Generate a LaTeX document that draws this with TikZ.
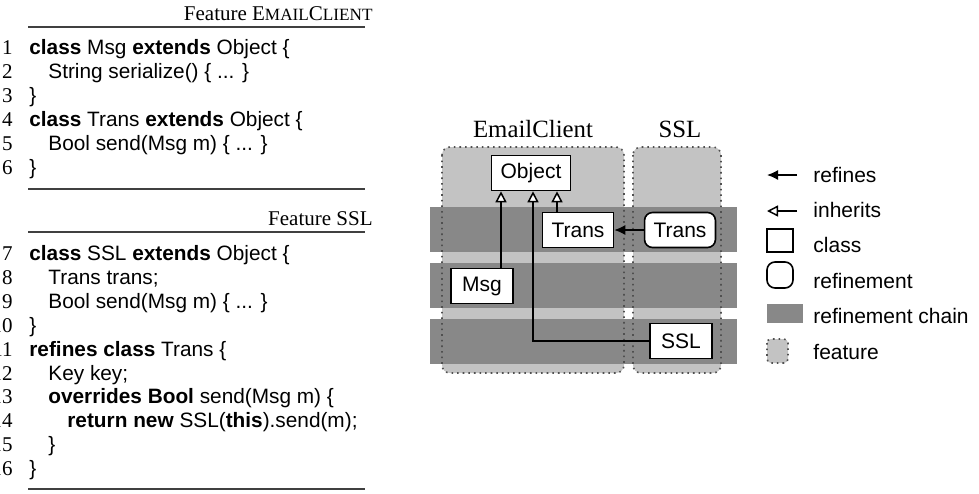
\documentclass[tikz,border=0pt]{standalone}
\usepackage{fontspec}
\setmainfont{Liberation Serif}
\setsansfont{Liberation Sans}
\usepackage{tikz}
\usetikzlibrary{arrows.meta,positioning}
\definecolor{featfill}{HTML}{C3C3C3}
\definecolor{chainfill}{HTML}{888888}
\definecolor{featline}{HTML}{505050}
\definecolor{rulegray}{HTML}{404040}
\tikzset{
  code/.style={anchor=base west,inner sep=0pt,font=\sffamily\fontsize{10.4}{12}\selectfont},
  lnum/.style={anchor=base east,inner sep=0pt,font=\fontsize{10.5}{12}\selectfont},
  hdr/.style={anchor=base east,inner sep=0pt,font=\fontsize{10.5}{12}\selectfont},
  rulex/.style={rulegray,line width=1pt},
  feat/.style={fill=featfill,rounded corners=4pt},
  featb/.style={draw=featline,dotted,line width=0.8pt,rounded corners=4pt},
  chain/.style={fill=chainfill},
  cls/.style={draw,line width=0.8pt,fill=white,font=\sffamily\fontsize{10.5}{12}\selectfont,inner xsep=4.5pt,minimum width=31pt,minimum height=17.5pt},
  rfn/.style={cls,rounded corners=4pt},
  inh/.style={-{Triangle[length=5.5pt,width=5.5pt,fill=white]},line width=0.75pt},
  rfs/.style={-{Latex[length=5.5pt,width=5pt]},line width=0.75pt},
  lgd/.style={anchor=base west,inner sep=0pt,font=\sffamily\fontsize{10.5}{12}\selectfont},
  ftitle/.style={anchor=base,inner sep=0pt,font=\fontsize{12.4}{14}\selectfont}
}

\begin{document}
\begin{tikzpicture}[x=0.5pt,y=-0.5pt]
\useasboundingbox (0,0) rectangle (979,493);
% code listing
\node[hdr] (h1) at (373,20) {Feature E{\fontsize{8.6}{10}\selectfont MAIL}C{\fontsize{8.6}{10}\selectfont LIENT}};
\draw[rulex] (28,27) -- (365,27);
\foreach \n in {1,...,6}{\node[lnum] (n\n) at (13,{54.5+24*(\n-1)}) {\n};}
\node[code] (c1) at (29,54.5) {\textbf{class} Msg \textbf{extends} Object \{};
\node[code] (c2) at (48,78.5) {String serialize() \{ ... \}};
\node[code] (c3) at (29,102.5) {\}};
\node[code] (c4) at (29,126.5) {\textbf{class} Trans \textbf{extends} Object \{};
\node[code] (c5) at (48,150.5) {Bool send(Msg m) \{ ... \}};
\node[code] (c6) at (29,174.5) {\}};
\draw[rulex] (28,189) -- (365,189);
\node[hdr] (h2) at (373,225) {Feature SSL};
\draw[rulex] (28,232) -- (365,232);
\foreach \n in {7,...,16}{\node[lnum] (n\n) at (13,{260.5+23.9*(\n-7)}) {\n};}
\node[code] (c7) at (29,260.5) {\textbf{class} SSL \textbf{extends} Object \{};
\node[code] (c8) at (48,284.4) {Trans trans;};
\node[code] (c9) at (48,308.3) {Bool send(Msg m) \{ ... \}};
\node[code] (c10) at (29,332.2) {\}};
\node[code] (c11) at (29,356.1) {\textbf{refines class} Trans \{};
\node[code] (c12) at (48,380) {Key key;};
\node[code] (c13) at (48,403.9) {\textbf{overrides Bool} send(Msg m) \{};
\node[code] (c14) at (67,427.8) {\textbf{return new} SSL(\textbf{this}).send(m);};
\node[code] (c15) at (48,451.7) {\}};
\node[code] (c16) at (29,475.6) {\}};
\draw[rulex] (28,489) -- (365,489);
% features and refinement chains
\fill[feat] (442,147) rectangle (624,373);
\fill[feat] (633,147) rectangle (721,373);
\foreach \y in {207,263,319}{\fill[chain] (430,\y) rectangle (737,\y+45);}
\draw[featb] (442,147) rectangle (624,373);
\draw[featb] (633,147) rectangle (721,373);
\node[ftitle] (fe) at (533,137) {EmailClient};
\node[ftitle] (fs) at (680,137) {SSL};
% classes
\node[cls] (obj) at (531,173) {Object};
\node[cls] (trc) at (578,230) {Trans};
\node[rfn] (trr) at (680,230) {Trans};
\node[cls] (msg) at (482,286) {Msg};
\node[cls] (ssl) at (681,341) {SSL};
\draw[inh] ([xshift=9.5pt]msg.north) -- ([xshift=9.5pt]msg.north |- obj.south);
\draw[inh] ([xshift=-10.5pt]trc.north) -- ([xshift=-10.5pt]trc.north |- obj.south);
\draw[inh] (ssl.west) -| ([xshift=1pt]obj.south);
\draw[rfs] (trr) -- (trc);
% legend
\coordinate (la1) at (797,175); \coordinate (lb1) at (767,175);
\coordinate (la2) at (797,211); \coordinate (lb2) at (767,211);
\draw[rfs] (la1) -- (lb1);
\draw[inh] (la2) -- (lb2);
\draw[line width=0.8pt] (767,229) rectangle (793,252);
\draw[line width=0.8pt,rounded corners=4pt] (767,262) rectangle (793,288);
\fill[chain] (767,304) rectangle (803,323);
\fill[feat,rounded corners=2pt] (767,339) rectangle (788,363);
\draw[featb,rounded corners=2pt] (767,339) rectangle (788,363);
\node[lgd] (t1) at (813,182) {refines};
\node[lgd] (t2) at (813,217) {inherits};
\node[lgd] (t3) at (813,252) {class};
\node[lgd] (t4) at (813,288) {refinement};
\node[lgd] (t5) at (813,323) {refinement chain};
\node[lgd] (t6) at (813,359) {feature};
\end{tikzpicture}
\end{document}
